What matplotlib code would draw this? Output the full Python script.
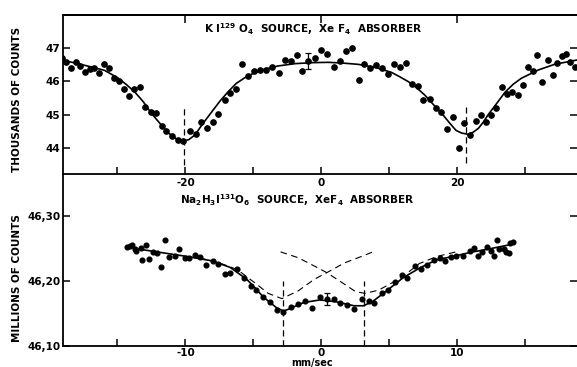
import matplotlib
matplotlib.use("Agg")
import matplotlib.pyplot as plt

plt.rcParams['font.family'] = ['DejaVu Sans']
plt.rcParams['axes.unicode_minus'] = False
plt.rcParams['mathtext.default'] = 'regular'

# ---------------- top panel: KI129O4 source ----------------
top_x = [-38.1, -37.5, -36.8, -36.1, -35.5, -34.8, -34.1, -33.5, -32.7, -31.9, -31.2, -30.5,
         -29.7, -29.0, -28.3, -27.5, -26.7, -25.9, -25.1, -24.3, -23.5, -22.8, -21.9, -21.1,
         -20.3, -19.3, -18.4, -17.7, -16.8, -16.0, -15.2, -14.2, -13.4, -12.5, -11.6, -10.8,
         -9.9, -9.0, -8.1, -7.2, -6.3, -5.4, -4.5, -3.6, -2.8, -1.9, -0.9, -0.1, 0.9, 1.8,
         2.7, 3.6, 4.5, 5.5, 6.3, 7.2, 8.1, 8.9, 9.8, 10.7, 11.6, 12.5, 13.3, 14.2, 15.0,
         16.0, 16.8, 17.6, 18.5, 19.3, 20.2, 21.0, 21.8, 22.7, 23.5, 24.2, 24.9, 25.7, 26.5,
         27.3, 28.0, 28.9, 29.6, 30.4, 31.1, 31.7, 32.5, 33.4, 34.0, 34.7, 35.4, 36.0, 36.6, 37.3]
top_y = [46.71, 46.59, 46.41, 46.57, 46.47, 46.28, 46.37, 46.41, 46.24, 46.53, 46.41, 46.11,
         46.01, 45.76, 45.57, 45.77, 45.82, 45.24, 45.07, 45.04, 44.66, 44.51, 44.37, 44.24,
         44.21, 44.52, 44.43, 44.79, 44.61, 44.77, 45.01, 45.43, 45.66, 45.77, 46.51, 46.15,
         46.31, 46.33, 46.33, 46.42, 46.24, 46.63, 46.62, 46.78, 46.32, 46.61, 46.71, 46.93,
         46.81, 46.42, 46.61, 46.91, 47.01, 46.04, 46.52, 46.41, 46.49, 46.41, 46.21, 46.51,
         46.42, 46.54, 45.91, 45.87, 45.44, 45.47, 45.21, 45.07, 44.56, 44.92, 43.99, 44.74,
         44.39, 44.81, 44.99, 44.79, 44.99, 45.19, 45.84, 45.62, 45.69, 45.59, 45.89, 46.42,
         46.31, 46.79, 45.99, 46.64, 46.19, 46.54, 46.77, 46.82, 46.57, 46.44]

top_fit_x = [-38.0, -36.0, -33.6, -31.9, -29.9, -28.6, -27.4, -26.2, -25.0, -23.75, -22.5,
             -21.3, -20.3, -19.5, -18.6, -17.4, -16.1, -14.9, -13.7, -12.5, -11.25, -10.0,
             -8.8, -6.4, -3.9, -1.4, 1.0, 3.0, 5.4, 7.9, 10.3, 11.5, 12.8, 14.0, 15.2, 16.4,
             17.7, 18.9, 19.8, 20.6, 21.6, 22.3, 23.1, 23.8, 24.5, 25.8, 27.0, 28.2, 29.4,
             31.9, 34.3, 37.6]
top_fit_y = [46.63, 46.54, 46.42, 46.33, 46.10, 45.89, 45.67, 45.39, 45.04, 44.74, 44.45,
             44.27, 44.21, 44.25, 44.39, 44.74, 45.09, 45.41, 45.69, 45.94, 46.11, 46.24,
             46.34, 46.46, 46.53, 46.56, 46.57, 46.55, 46.51, 46.42, 46.27, 46.14, 45.99,
             45.81, 45.59, 45.32, 45.04, 44.74, 44.53, 44.45, 44.41, 44.47, 44.59, 44.77,
             44.99, 45.34, 45.67, 45.91, 46.09, 46.34, 46.51, 46.64]

top_vline_x = [-20.2, 21.3]
top_vline_lo = [43.5, 43.55]
top_vline_hi = [45.2, 45.23]
top_err_x, top_err_y, top_err = [-1.9], [46.61], [0.23]

# ---------------- bottom panel: Na2H3I131O6 source ----------------
bot_x = [-14.3, -14.1, -13.9, -13.7, -13.6, -13.3, -13.2, -12.9, -12.7, -12.4, -12.1, -11.8,
         -11.5, -11.2, -10.8, -10.5, -10.0, -9.7, -9.3, -8.9, -8.5, -8.0, -7.6, -7.1, -6.7,
         -6.2, -5.7, -5.2, -4.8, -4.3, -3.8, -3.25, -2.8, -2.2, -1.7, -1.2, -0.7, -0.1, 0.4,
         0.9, 1.4, 1.9, 2.4, 3.0, 3.5, 3.9, 4.45, 4.9, 5.4, 5.9, 6.3, 6.9, 7.3, 7.8, 8.25,
         8.7, 9.1, 9.5, 9.9, 10.4, 10.9, 11.2, 11.5, 11.8, 12.2, 12.5, 12.7, 12.9, 13.1, 13.4,
         13.6, 13.8, 13.9, 14.1]
bot_y = [46.253, 46.254, 46.255, 46.249, 46.246, 46.251, 46.232, 46.255, 46.234, 46.245,
         46.244, 46.221, 46.264, 46.237, 46.239, 46.249, 46.236, 46.236, 46.240, 46.237,
         46.225, 46.231, 46.226, 46.211, 46.213, 46.218, 46.204, 46.193, 46.187, 46.176,
         46.168, 46.155, 46.152, 46.160, 46.165, 46.169, 46.159, 46.175, 46.172, 46.172,
         46.166, 46.163, 46.157, 46.172, 46.170, 46.166, 46.181, 46.186, 46.198, 46.210,
         46.204, 46.223, 46.218, 46.225, 46.232, 46.236, 46.231, 46.237, 46.239, 46.239,
         46.246, 46.251, 46.239, 46.245, 46.253, 46.246, 46.239, 46.263, 46.249, 46.250,
         46.245, 46.243, 46.259, 46.261]

bot_fit_x = [-14.3, -12.4, -9.9, -8.0, -6.7, -5.5, -4.8, -4.3, -3.3, -2.8, -2.5, -1.3, -0.1,
             1.1, 2.4, 3.1, 3.8, 4.8, 6.0, 7.3, 8.5, 9.7, 10.9, 12.2, 14.1]
bot_fit_y = [46.252, 46.246, 46.238, 46.231, 46.221, 46.203, 46.188, 46.176, 46.159, 46.154,
             46.156, 46.167, 46.171, 46.168, 46.162, 46.162, 46.169, 46.185, 46.205, 46.221,
             46.233, 46.238, 46.244, 46.249, 46.257]

compA_x = [-9.0, -7.5, -6.2, -5.0, -3.9, -2.9, -1.7, -0.5, 0.4, 1.7, 2.95, 3.8]
compA_y = [46.236, 46.228, 46.218, 46.199, 46.181, 46.173, 46.185, 46.203, 46.213, 46.228,
           46.238, 46.245]
compB_x = [-3.0, -1.7, -0.5, 0.4, 1.5, 2.5, 3.2, 4.2, 5.0, 6.0, 7.2, 8.5, 9.9]
compB_y = [46.245, 46.236, 46.223, 46.213, 46.198, 46.184, 46.181, 46.186, 46.195, 46.207,
           46.227, 46.238, 46.245]

bot_vline_x = [-2.85, 3.1]
bot_vline_lo = [46.10, 46.10]
bot_vline_hi = [46.20, 46.20]
bot_err_x, bot_err_y, bot_err = [0.4], [46.172], [0.009]

top_xticks = [-30, -20, -10, 0, 10, 20, 30]
top_xlabels = ['', '-20', '', '0', '', '20', '']
top_yticks = [44, 45, 46, 47]
bot_xticks = [-15, -10, -5, 0, 5, 10, 15]
bot_xlabels = ['', '-10', '', '0', '', '10', '']
bot_yticks = [46.10, 46.20, 46.30]
bot_ylabels = ['46,10', '46,20', '46,30']

W, H = 577, 367
fig = plt.figure(figsize=(W / 100, H / 100), dpi=100)
L = 63 / W
axB = fig.add_axes([L, (H - 346) / H, 1 - L, (346 - 174) / H])
axT = fig.add_axes([L, (H - 174) / H, 1 - L, (174 - 15) / H])
axT.set_zorder(3)
axT.patch.set_visible(False)

tick_fs = 7.5
for ax in (axT, axB):
    ax.spines['right'].set_visible(False)
    for s in ('left', 'top', 'bottom'):
        ax.spines[s].set_linewidth(1.3)
    ax.tick_params(direction='in', length=5, width=1.1, labelsize=tick_fs, pad=2)
axB.spines['top'].set_visible(False)

# top panel
axT.plot(top_x, top_y, 'o', color='black', ms=3.8, zorder=3)
axT.plot(top_fit_x, top_fit_y, '-', color='black', lw=1.2)
axT.vlines(top_vline_x, top_vline_lo, top_vline_hi, colors='black', lw=0.9,
           linestyles=(0, (5, 3)))
axT.errorbar(top_err_x, top_err_y, yerr=top_err, fmt='none', ecolor='black', elinewidth=0.9,
             capsize=2.5, capthick=0.9)
axT.set_xlim(-38.0, 37.6)
axT.set_ylim(43.22, 47.99)
axT.set_xticks(top_xticks)
axT.set_xticklabels(top_xlabels)
axT.set_yticks(top_yticks)
axT.tick_params(axis='y', right=True, labelright=False)
axT.tick_params(axis='x', top=False, pad=3)
sec = axT.secondary_xaxis('top')
sec.set_xticks([-20, 0, 20])
sec.set_xticklabels([])
sec.tick_params(direction='in', length=6, width=1.1)
sec.spines['top'].set_linewidth(1.3)
for lab in axT.get_yticklabels() + axT.get_xticklabels():
    lab.set_fontweight('bold')

# bottom panel
axB.plot(bot_x, bot_y, 'o', color='black', ms=3.4, zorder=3)
axB.plot(bot_fit_x, bot_fit_y, '-', color='black', lw=1.2)
axB.plot(compA_x, compA_y, color='black', lw=0.8, ls=(0, (6, 4)))
axB.plot(compB_x, compB_y, color='black', lw=0.8, ls=(0, (6, 4)))
axB.vlines(bot_vline_x, bot_vline_lo, bot_vline_hi, colors='black', lw=0.9,
           linestyles=(0, (5, 3)))
axB.errorbar(bot_err_x, bot_err_y, yerr=bot_err, fmt='none', ecolor='black', elinewidth=0.9,
             capsize=2.5, capthick=0.9)
axB.set_xlim(-19.0, 18.8)
axB.set_ylim(46.101, 46.365)
axB.set_xticks(bot_xticks)
axB.set_xticklabels(bot_xlabels)
axB.set_yticks(bot_yticks)
axB.set_yticklabels(bot_ylabels)
axB.tick_params(axis='y', right=True, labelright=False)
axB.tick_params(axis='x', top=False, pad=1.5)
for lab in axB.get_yticklabels() + axB.get_xticklabels():
    lab.set_fontweight('bold')

fig.text(313 / W, (H - 29) / H, 'K I$^{129}$ O$_4$  SOURCE,  Xe F$_4$  ABSORBER',
         ha='center', va='center', fontsize=7.5, fontweight='bold')
fig.text(297 / W, (H - 200) / H, 'Na$_2$H$_3$I$^{131}$O$_6$  SOURCE,  XeF$_4$  ABSORBER',
         ha='center', va='center', fontsize=7.5, fontweight='bold')
fig.text(312 / W, (H - 363) / H, 'mm/sec', ha='center', va='center', fontsize=7,
         fontweight='bold')
fig.text(17 / W, (H - 99) / H, 'THOUSANDS OF COUNTS', rotation=90, ha='center', va='center',
         fontsize=7.5, fontweight='bold')
fig.text(17 / W, (H - 278) / H, 'MILLIONS OF COUNTS', rotation=90, ha='center', va='center',
         fontsize=7.5, fontweight='bold')

fig.savefig('out.png', dpi=100)
